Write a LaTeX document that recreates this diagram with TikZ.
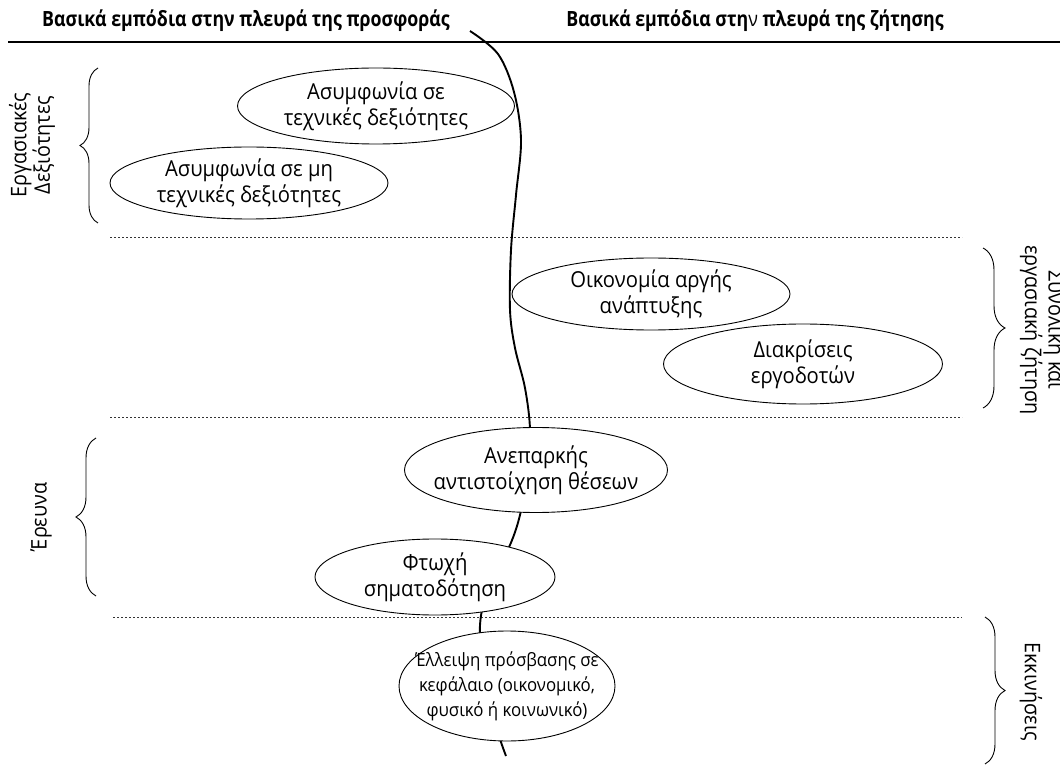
\documentclass[tikz,border=0pt]{standalone}
\usepackage{fontspec}
\setmainfont{Open Sans}[FakeStretch=0.92]
\usetikzlibrary{shapes.geometric,decorations.pathreplacing}
\begin{document}
\begin{tikzpicture}[x=1pt,y=-1pt,
  bubble/.style={draw, ellipse, fill=white, line width=0.9pt, align=center, inner xsep=-18pt, inner ysep=-6pt,
    font=\fontsize{22}{26}\selectfont},
  divider/.style={line width=0.7pt, dash pattern=on 2.2pt off 1.8pt, black!80},
  bracket/.style={line width=0.9pt, decorate, decoration={brace, amplitude=#1}},
  sidelabel/.style={align=center, font=\fontsize{21.5}{22}\selectfont},
  header/.style={font=\fontsize{21}{24}\selectfont\bfseries, inner sep=0pt}
]
\useasboundingbox (0,0) rectangle (1060,775);

% headers
\node[header] (hs) at (246,21) {\scalebox{0.92}[1]{Βασικά εμπόδια στην πλευρά της προσφοράς}};
\node[header] (hd) at (755,21) {\scalebox{0.92}[1]{Βασικά εμπόδια στη{\mdseries ν} πλευρά της ζήτησης}};
\draw[line width=1.1pt] (8,42) -- (1060,42);

% dividers
\draw[divider] (110,237) -- (962,237);
\draw[divider] (110,417) -- (962,417);
\draw[divider] (113,617) -- (962,617);

% dividing curve
\coordinate (cstart) at (470,31);
\coordinate (cend) at (506,756);
\draw[line width=1.9pt] plot[smooth, tension=0.55] coordinates {
  (cstart) (498,54) (514,92) (521,140) (516,195) (511,250) (510,310) (515,348)
  (525,388) (530,430) (527,475) (520,515) (510,545) (492,580) (482,610) (480,640)
  (486,690) (498,733) (cend)};

% bubbles
\node[bubble, minimum width=277pt, minimum height=76pt] (a1) at (376,106) {Ασυμφωνία σε\\τεχνικές δεξιότητες};
\node[bubble, minimum width=278pt, minimum height=72pt] (a2) at (249,183) {Ασυμφωνία σε μη\\τεχνικές δεξιότητες};
\node[bubble, minimum width=278pt, minimum height=72pt] (b1) at (651,294) {Οικονομία αργής\\ανάπτυξης};
\node[bubble, minimum width=279pt, minimum height=80pt] (b2) at (803,364) {Διακρίσεις\\εργοδοτών};
\node[bubble, minimum width=263pt, minimum height=85pt] (c1) at (536,470) {Ανεπαρκής\\αντιστοίχηση θέσεων};
\node[bubble, minimum width=240pt, minimum height=76pt] (c2) at (435,577) {Φτωχή\\σηματοδότηση};
\node[bubble, minimum width=216pt, minimum height=110pt, inner xsep=-40pt, inner ysep=-14pt,
  font=\fontsize{18.3}{25}\selectfont] (d1) at (507,686) {Έλλειψη πρόσβασης σε\\κεφάλαιο (οικονομικό,\\φυσικό ή κοινωνικό)};

% braces
\coordinate (l1b) at (98,223); \coordinate (l1t) at (98,68);
\draw[bracket=18pt] (l1b) -- (l1t);
\coordinate (l2b) at (96,596); \coordinate (l2t) at (96,438);
\draw[bracket=20pt] (l2b) -- (l2t);
\coordinate (r1t) at (983,248); \coordinate (r1b) at (983,408);
\draw[bracket=22pt] (r1t) -- (r1b);
\coordinate (r2t) at (985,617); \coordinate (r2b) at (985,764);
\draw[bracket=20pt] (r2t) -- (r2b);

% side labels
\node[sidelabel, rotate=90] (s1) at (32,145) {Εργασιακές\\Δεξιότητες};
\node[sidelabel, rotate=90] (s2) at (41,517) {Έρευνα};
\node[sidelabel, rotate=-90] (s3) at (1043,330) {Συνολική και\\εργασιακή ζήτηση};
\node[sidelabel, rotate=-90] (s4) at (1031,692) {Εκκινήσεις};
\end{tikzpicture}
\end{document}
